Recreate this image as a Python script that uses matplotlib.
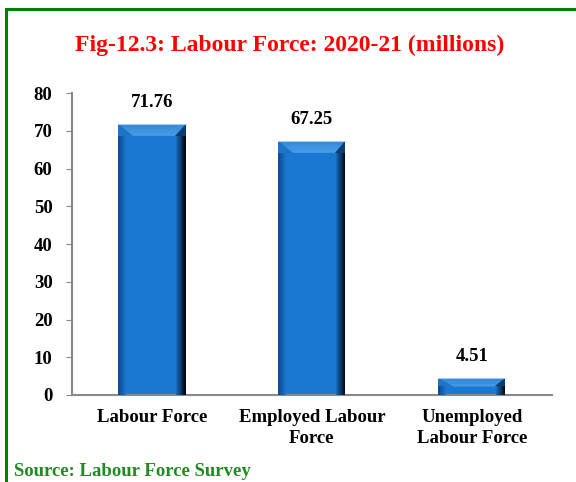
import numpy as np
import matplotlib.pyplot as plt
from matplotlib.colors import to_rgb
from matplotlib.patches import Rectangle

categories = ["Labour Force", "Employed Labour\nForce", "Unemployed\nLabour Force"]
values = [71.76, 67.25, 4.51]
value_labels = ["71.76", "67.25", "4.51"]
yticks = [0, 10, 20, 30, 40, 50, 60, 70, 80]

plt.rcParams["font.family"] = ["Liberation Serif", "DejaVu Serif"]

fig = plt.figure(figsize=(5.76, 4.82), dpi=100)
ax = fig.add_axes([0.125, 0.1805, 0.833, 0.6265])

# green frame (left + top edges visible)
fig.add_artist(Rectangle((6 / 576, -0.05), 1.2, 1 - 9 / 482 + 0.05, transform=fig.transFigure,
                         fill=False, edgecolor="#008000", linewidth=2.2, clip_on=False))

x = np.arange(len(categories))
w = 0.42
face = "#1a78d2"
bars = ax.bar(x, values, width=w, color=face, zorder=2)


def blend(c1, c2, t):
    a, b = np.array(to_rgb(c1)), np.array(to_rgb(c2))
    return tuple(a + (b - a) * t)


# bevel look on each bar
sl, sr = 0.05, 0.06      # side strips
tl, tr = 0.09, 0.065     # top bevel insets
for xi, h in zip(x, values):
    l, r = xi - w / 2, xi + w / 2
    by = min(3.1, h * 0.5)
    n = 8
    # left strip, dark -> face
    for k in range(n):
        x0 = l + sl * k / n
        x1 = l + sl * (k + 1) / n
        ax.fill([x0, x1, x1, x0], [0, 0, h - by, h - by],
                color=blend("#0b4a8c", face, k / n), lw=0, zorder=3)
    # right strip, face -> black
    for k in range(n):
        x0 = r - sr + sr * k / n
        x1 = r - sr + sr * (k + 1) / n
        ax.fill([x0, x1, x1, x0], [0, 0, h - by, h - by],
                color=blend(face, "#020a18", (k + 1) / n), lw=0, zorder=3)
    # top bevel, lighter band fading down
    m = 6
    for k in range(m):
        y0 = h - by * k / m
        y1 = h - by * (k + 1) / m
        f0, f1 = k / m, (k + 1) / m
        ax.fill([l + tl * f0, r - tr * f0, r - tr * f1, l + tl * f1], [y0, y0, y1, y1],
                color=blend("#2f86d8", "#4a9ce6", f1), lw=0, zorder=4)
    ax.fill([r, r, r - tr], [h, h - by, h - by], color="#0c3d70", lw=0, zorder=4)
    ax.fill([l, l, l + tl], [h, h - by, h - by], color="#1f74c4", lw=0, zorder=4)
    ax.plot([l, r], [h, h], color="#a8cdef", lw=0.8, zorder=5)

for xi, h, lab in zip(x, values, value_labels):
    ax.text(xi, h + 3.4, lab, ha="center", va="bottom", fontsize=13.5, fontweight="bold")

ax.set_xlim(-0.5, 2.5)
ax.set_ylim(0, 80)
ax.set_yticks(yticks)
ax.set_xticks(x)
ax.set_xticklabels(categories, fontsize=13.5, fontweight="bold", linespacing=1.3)
for t in ax.get_yticklabels():
    t.set_fontsize(13.5)
    t.set_fontweight("bold")
ax.tick_params(axis="x", length=0, pad=10)
ax.tick_params(axis="y", length=4, color="#888888", pad=10)
for s in ["top", "right"]:
    ax.spines[s].set_visible(False)
for s in ["left", "bottom"]:
    ax.spines[s].set_color("#888888")
    ax.spines[s].set_linewidth(1.5)

fig.text(0.503, 0.906, "Fig-12.3: Labour Force: 2020-21 (millions)", ha="center", va="center",
         color="red", fontsize=17, fontweight="bold")
fig.text(14 / 576, 1 - 472 / 482, "Source: Labour Force Survey", ha="left", va="center",
         color="#1e8c1e", fontsize=13.5, fontweight="bold")

fig.savefig("out.png", dpi=100)
